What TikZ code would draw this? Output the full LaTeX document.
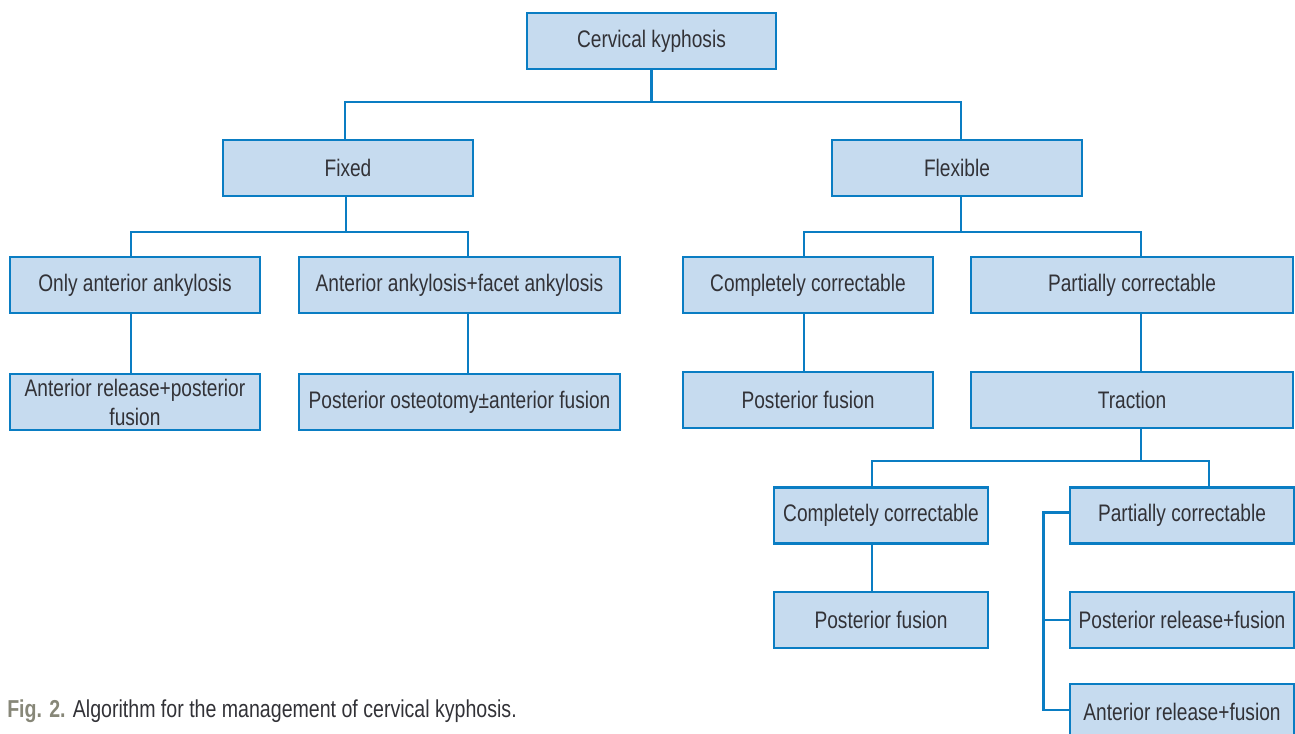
\documentclass[tikz,border=0pt]{standalone}
\usepackage{fontspec}
\setmainfont{Liberation Sans}[FakeStretch=0.8]
\usepackage{tikz}
\usetikzlibrary{calc}

\definecolor{boxfill}{RGB}{198,219,239}
\definecolor{boxline}{RGB}{10,125,195}
\definecolor{boxtext}{RGB}{50,50,55}
\definecolor{figgray}{RGB}{135,135,120}

\tikzset{
  box/.style={draw=boxline, line width=1.8pt, fill=boxfill, text=boxtext,
    minimum width=#1*0.025cm, minimum height=1.39cm, inner sep=0pt,
    align=center, font=\fontsize{17}{20.6}\selectfont},
  link/.style={boxline, line width=1.8pt},
}

\begin{document}
\begin{tikzpicture}[x=0.025cm, y=-0.025cm]

% Frame of the figure
\useasboundingbox (0,0) rectangle (1295,733);

% Root
\node[box=249] (root) at (651.5,41) {Cervical kyphosis};

% First split
\node[box=250] (fixed) at (348,168) {Fixed};
\node[box=250] (flexible) at (957,168) {Flexible};

% Fixed branch
\node[box=250] (onlyant) at (135,285) {Only anterior ankylosis};
\node[box=321] (antfacet) at (459.5,285) {Anterior ankylosis+facet ankylosis};
\node[box=250] (antrelpost) at (135,402) {Anterior release+posterior\\fusion};
\node[box=321] (postost) at (459.5,402) {Posterior osteotomy\textpm anterior fusion};

% Flexible branch
\node[box=250] (compcorr) at (808,285) {Completely correctable};
\node[box=322] (partcorr) at (1132,285) {Partially correctable};
\node[box=250] (postfus) at (808,400) {Posterior fusion};
\node[box=322] (traction) at (1132,400) {Traction};

% After traction
\node[box=214] (compcorrb) at (881,515.5) {Completely correctable};
\node[box=224] (partcorrb) at (1182,515.5) {Partially correctable};
\node[box=214] (postfusb) at (881,620) {Posterior fusion};
\node[box=224] (postrel) at (1182,620) {Posterior release+fusion};
\node[box=224] (antrelfus) at (1182,712) {Anterior release+fusion};

% Root connectors
\draw[link] (root.south) -- ++(0,32) coordinate (busA);
\draw[link] ($(fixed.north)+(-3,0)$) |- (busA) -| ($(flexible.north)+(4,0)$);

% Fixed connectors
\draw[link] ($(fixed.south)+(-2,0)$) -- ++(0,35) coordinate (busB);
\draw[link] ($(onlyant.north)+(-4,0)$) |- (busB) -| ($(antfacet.north)+(8.5,0)$);
\draw[link] ($(onlyant.south)+(-4,0)$) -- ($(antrelpost.north)+(-4,0)$);
\draw[link] ($(antfacet.south)+(8.5,0)$) -- ($(postost.north)+(8.5,0)$);

% Flexible connectors
\draw[link] ($(flexible.south)+(4,0)$) -- ++(0,35) coordinate (busC);
\draw[link] ($(compcorr.north)+(-4,0)$) |- (busC) -| ($(partcorr.north)+(9,0)$);
\draw[link] ($(compcorr.south)+(-4,0)$) -- ($(postfus.north)+(-4,0)$);
\draw[link] ($(partcorr.south)+(9,0)$) -- ($(traction.north)+(9,0)$);

% Traction connectors
\draw[link] ($(traction.south)+(9,0)$) -- ++(0,32) coordinate (busD);
\draw[link] ($(compcorrb.north)+(-9,0)$) |- (busD) -| ($(partcorrb.north)+(27,0)$);
\draw[link] ($(compcorrb.south)+(-9,0)$) -- ($(postfusb.north)+(-9,0)$);

% Bracket on the left of the last column
\draw[link] ($(partcorrb.west)+(0,-3)$) -- ++(-25,0) |- ($(antrelfus.west)+(0,-2)$);
\draw[link] (postrel.west) -- ++(-25,0);

% Caption
\node[anchor=west, inner sep=0pt, text=boxtext, font=\fontsize{17.4}{20}\selectfont]
  (caption) at (7,711) {\textcolor{figgray}{\textbf{Fig. 2.}} Algorithm for the management of cervical kyphosis.};

\end{tikzpicture}
\end{document}
